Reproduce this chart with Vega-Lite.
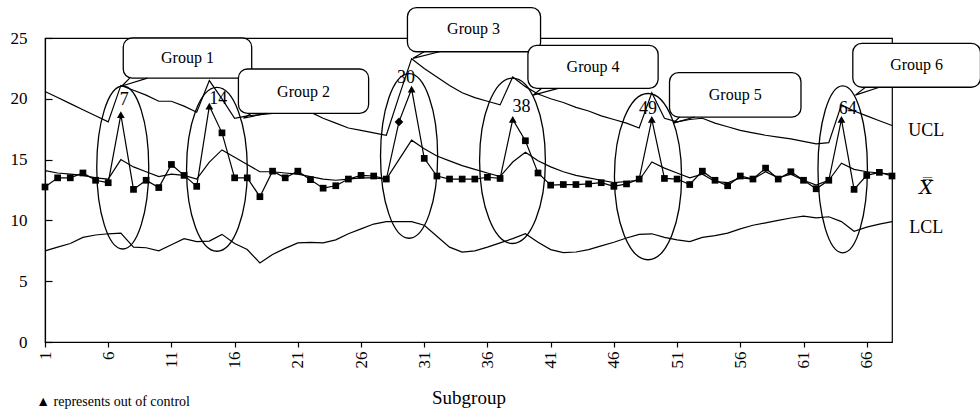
{
  "$schema": "https://vega.github.io/schema/vega-lite/v6.json",
  "width": 847,
  "height": 304,
  "autosize": "none",
  "padding": {"left": 45, "top": 38, "right": 88, "bottom": 71},
  "background": "white",
  "config": {
    "view": {"stroke": "black", "strokeWidth": 1.2},
    "font": "Liberation Serif, Times New Roman, serif",
    "axis": {"grid": false, "domainColor": "black", "tickColor": "black", "labelColor": "black", "titleColor": "black", "labelFont": "Liberation Serif, Times New Roman, serif", "titleFont": "Liberation Serif, Times New Roman, serif", "labelFontSize": 17, "titleFontSize": 19, "titleFontWeight": "normal", "domainWidth": 1.2, "tickWidth": 1.2}
  },
  "resolve": {"scale": {"shape": "independent", "size": "independent"}},
  "datasets": {
    "main": [
      {"s":1,"value":12.75,"status":"in","cl":14.1,"ucl":20.6,"lcl":7.5},
      {"s":2,"value":13.5,"status":"in","cl":13.9,"ucl":20.1,"lcl":7.8},
      {"s":3,"value":13.5,"status":"in","cl":13.8,"ucl":19.6,"lcl":8.1},
      {"s":4,"value":13.9,"status":"in","cl":13.7,"ucl":19.1,"lcl":8.6},
      {"s":5,"value":13.3,"status":"in","cl":13.5,"ucl":18.6,"lcl":8.8},
      {"s":6,"value":13.1,"status":"in","cl":13.4,"ucl":18.1,"lcl":8.9},
      {"s":7,"value":18.7,"status":"out","cl":15.0,"ucl":21.1,"lcl":8.95},
      {"s":8,"value":12.55,"status":"in","cl":14.4,"ucl":20.7,"lcl":7.8},
      {"s":9,"value":13.3,"status":"in","cl":14.0,"ucl":20.3,"lcl":7.75},
      {"s":10,"value":12.7,"status":"in","cl":13.6,"ucl":19.8,"lcl":7.5},
      {"s":11,"value":14.6,"status":"in","cl":13.8,"ucl":19.8,"lcl":8.0},
      {"s":12,"value":13.7,"status":"in","cl":13.7,"ucl":19.4,"lcl":8.5},
      {"s":13,"value":12.8,"status":"in","cl":13.4,"ucl":18.9,"lcl":8.25},
      {"s":14,"value":19.4,"status":"out","cl":14.8,"ucl":21.5,"lcl":8.3},
      {"s":15,"value":17.2,"status":"in","cl":15.8,"ucl":20.0,"lcl":8.85},
      {"s":16,"value":13.5,"status":"in","cl":15.2,"ucl":18.4,"lcl":8.1},
      {"s":17,"value":13.5,"status":"in","cl":14.6,"ucl":18.6,"lcl":7.6},
      {"s":18,"value":11.95,"status":"in","cl":14.0,"ucl":18.7,"lcl":6.5},
      {"s":19,"value":14.05,"status":"in","cl":14.0,"ucl":18.8,"lcl":7.2},
      {"s":20,"value":13.5,"status":"in","cl":13.9,"ucl":18.8,"lcl":7.7},
      {"s":21,"value":14.05,"status":"in","cl":13.8,"ucl":18.9,"lcl":8.15},
      {"s":22,"value":13.35,"status":"in","cl":13.6,"ucl":18.9,"lcl":8.2},
      {"s":23,"value":12.65,"status":"in","cl":13.4,"ucl":18.4,"lcl":8.15},
      {"s":24,"value":12.85,"status":"in","cl":13.3,"ucl":18.0,"lcl":8.4},
      {"s":25,"value":13.4,"status":"in","cl":13.4,"ucl":17.6,"lcl":8.9},
      {"s":26,"value":13.7,"status":"in","cl":13.5,"ucl":17.4,"lcl":9.3},
      {"s":27,"value":13.65,"status":"in","cl":13.5,"ucl":17.2,"lcl":9.7},
      {"s":28,"value":13.4,"status":"in","cl":13.4,"ucl":17.0,"lcl":9.9},
      {"s":29,"value":18.1,"status":"warn","cl":15.0,"ucl":20.2,"lcl":9.9},
      {"s":30,"value":20.8,"status":"out","cl":16.6,"ucl":23.3,"lcl":9.9},
      {"s":31,"value":15.1,"status":"in","cl":15.9,"ucl":22.5,"lcl":9.6},
      {"s":32,"value":13.65,"status":"in","cl":15.3,"ucl":21.8,"lcl":8.7},
      {"s":33,"value":13.4,"status":"in","cl":14.9,"ucl":21.1,"lcl":7.8},
      {"s":34,"value":13.4,"status":"in","cl":14.5,"ucl":20.5,"lcl":7.4},
      {"s":35,"value":13.4,"status":"in","cl":14.2,"ucl":20.1,"lcl":7.5},
      {"s":36,"value":13.55,"status":"in","cl":13.9,"ucl":19.8,"lcl":7.8},
      {"s":37,"value":13.45,"status":"in","cl":13.6,"ucl":19.5,"lcl":8.15},
      {"s":38,"value":18.3,"status":"out","cl":14.8,"ucl":21.8,"lcl":8.5},
      {"s":39,"value":16.55,"status":"in","cl":15.6,"ucl":21.0,"lcl":8.9},
      {"s":40,"value":13.9,"status":"in","cl":14.9,"ucl":20.4,"lcl":8.2},
      {"s":41,"value":12.9,"status":"in","cl":14.4,"ucl":20.0,"lcl":7.6},
      {"s":42,"value":12.95,"status":"in","cl":14.0,"ucl":19.7,"lcl":7.35},
      {"s":43,"value":12.95,"status":"in","cl":13.7,"ucl":19.3,"lcl":7.4},
      {"s":44,"value":13.0,"status":"in","cl":13.5,"ucl":19.0,"lcl":7.6},
      {"s":45,"value":13.1,"status":"in","cl":13.3,"ucl":18.6,"lcl":7.9},
      {"s":46,"value":12.8,"status":"in","cl":13.1,"ucl":18.3,"lcl":8.2},
      {"s":47,"value":13.0,"status":"in","cl":13.2,"ucl":18.0,"lcl":8.55},
      {"s":48,"value":13.4,"status":"in","cl":13.3,"ucl":17.6,"lcl":8.85},
      {"s":49,"value":18.3,"status":"out","cl":14.8,"ucl":20.5,"lcl":8.9},
      {"s":50,"value":13.45,"status":"in","cl":14.3,"ucl":18.4,"lcl":8.6},
      {"s":51,"value":13.4,"status":"in","cl":13.9,"ucl":18.1,"lcl":8.4},
      {"s":52,"value":12.95,"status":"in","cl":13.5,"ucl":18.3,"lcl":8.25},
      {"s":53,"value":14.05,"status":"in","cl":13.8,"ucl":18.4,"lcl":8.6},
      {"s":54,"value":13.3,"status":"in","cl":13.2,"ucl":18.0,"lcl":8.75},
      {"s":55,"value":12.85,"status":"in","cl":13.1,"ucl":17.7,"lcl":8.95},
      {"s":56,"value":13.65,"status":"in","cl":13.5,"ucl":17.4,"lcl":9.3},
      {"s":57,"value":13.4,"status":"in","cl":13.4,"ucl":17.2,"lcl":9.6},
      {"s":58,"value":14.3,"status":"in","cl":14.0,"ucl":17.0,"lcl":9.8},
      {"s":59,"value":13.4,"status":"in","cl":13.5,"ucl":16.85,"lcl":10.0},
      {"s":60,"value":14.0,"status":"in","cl":13.8,"ucl":16.7,"lcl":10.2},
      {"s":61,"value":13.3,"status":"in","cl":13.3,"ucl":16.5,"lcl":10.35},
      {"s":62,"value":12.6,"status":"in","cl":12.9,"ucl":16.3,"lcl":10.2},
      {"s":63,"value":13.3,"status":"in","cl":13.3,"ucl":16.4,"lcl":10.3},
      {"s":64,"value":18.3,"status":"out","cl":14.7,"ucl":19.5,"lcl":9.9},
      {"s":65,"value":12.55,"status":"in","cl":14.2,"ucl":19.0,"lcl":9.1},
      {"s":66,"value":13.7,"status":"in","cl":14.0,"ucl":18.6,"lcl":9.45},
      {"s":67,"value":13.95,"status":"in","cl":13.9,"ucl":18.2,"lcl":9.7},
      {"s":68,"value":13.65,"status":"in","cl":13.8,"ucl":17.8,"lcl":9.9}
    ],
    "ellipses": [
      {"group":"Group 1","s":7.15,"v":14.35},
      {"group":"Group 2","s":14.6,"v":14.2},
      {"group":"Group 3","s":29.8,"v":15.3},
      {"group":"Group 4","s":37.98,"v":14.9},
      {"group":"Group 5","s":48.7,"v":13.6},
      {"group":"Group 6","s":64.1,"v":14.2}
    ],
    "boxes": [
      {"group":"Group 1","s1":7.19,"s2":17.35,"v1":21.7,"v2":25.0,"sc":12.27,"vc":23.35},
      {"group":"Group 2","s1":16.3,"s2":26.6,"v1":18.8,"v2":22.45,"sc":21.45,"vc":20.6},
      {"group":"Group 3","s1":29.67,"s2":40.2,"v1":23.87,"v2":27.5,"sc":34.9,"vc":25.7},
      {"group":"Group 4","s1":39.2,"s2":49.5,"v1":20.86,"v2":24.4,"sc":44.35,"vc":22.6},
      {"group":"Group 5","s1":50.4,"s2":60.8,"v1":18.5,"v2":22.15,"sc":55.6,"vc":20.3},
      {"group":"Group 6","s1":64.9,"s2":75.0,"v1":20.95,"v2":24.56,"sc":69.95,"vc":22.75}
    ],
    "tails": [
      {"group":"Group 1","k":1,"s":7.7,"v":21.7},{"group":"Group 1","k":2,"s":7.09,"v":21.05},{"group":"Group 1","k":3,"s":9.1,"v":21.7},
      {"group":"Group 2","k":1,"s":17.3,"v":18.8},{"group":"Group 2","k":2,"s":16.7,"v":18.4},{"group":"Group 2","k":3,"s":18.5,"v":18.8},
      {"group":"Group 3","k":1,"s":31.0,"v":23.87},{"group":"Group 3","k":2,"s":30.1,"v":23.33},{"group":"Group 3","k":3,"s":32.2,"v":23.87},
      {"group":"Group 4","k":1,"s":40.3,"v":20.86},{"group":"Group 4","k":2,"s":39.6,"v":20.3},{"group":"Group 4","k":3,"s":41.6,"v":20.86},
      {"group":"Group 5","k":1,"s":51.2,"v":18.5},{"group":"Group 5","k":2,"s":50.7,"v":18.0},{"group":"Group 5","k":3,"s":52.4,"v":18.5},
      {"group":"Group 6","k":1,"s":65.9,"v":20.95},{"group":"Group 6","k":2,"s":65.1,"v":20.3},{"group":"Group 6","k":3,"s":67.0,"v":20.95}
    ],
    "numbers": [
      {"label":"7","s":7.27,"v":19.9},
      {"label":"14","s":14.7,"v":20.0},
      {"label":"30","s":29.56,"v":21.7},
      {"label":"38","s":38.7,"v":19.35},
      {"label":"49","s":48.7,"v":19.2},
      {"label":"64","s":64.5,"v":19.2}
    ],
    "sidelabels": [
      {"label":"UCL","s":70.7,"v":17.35},
      {"label":"LCL","s":70.7,"v":9.4}
    ],
    "xbar": [
      {"label":"X\u033f","s":70.7,"v":12.66}
    ],
    "notes": [
      {"label":"▲  represents out of control","s":0.3,"v":-4.93}
    ]
  },
  "layer": [
    {
      "data": {"name": "main"},
      "mark": {"type": "line", "color": "black", "strokeWidth": 1.2},
      "encoding": {
        "x": {"field": "s", "type": "quantitative", "scale": {"domain": [1, 68], "nice": false, "zero": false},
              "axis": {"values": [1,6,11,16,21,26,31,36,41,46,51,56,61,66], "labelAngle": -90, "tickSize": 5, "labelPadding": 4, "title": "Subgroup", "titlePadding": 20}},
        "y": {"field": "ucl", "type": "quantitative", "scale": {"domain": [0, 25], "nice": false},
              "axis": {"values": [0,5,10,15,20,25], "tickSize": -7, "labelPadding": 25, "title": null}}
      }
    },
    {
      "data": {"name": "main"},
      "mark": {"type": "line", "color": "black", "strokeWidth": 1.2},
      "encoding": {
        "x": {"field": "s", "type": "quantitative", "scale": {"domain": [1, 68], "nice": false, "zero": false}},
        "y": {"field": "cl", "type": "quantitative", "scale": {"domain": [0, 25], "nice": false}}
      }
    },
    {
      "data": {"name": "main"},
      "mark": {"type": "line", "color": "black", "strokeWidth": 1.2},
      "encoding": {
        "x": {"field": "s", "type": "quantitative", "scale": {"domain": [1, 68], "nice": false, "zero": false}},
        "y": {"field": "lcl", "type": "quantitative", "scale": {"domain": [0, 25], "nice": false}}
      }
    },
    {
      "data": {"name": "main"},
      "mark": {"type": "line", "color": "black", "strokeWidth": 1.2},
      "encoding": {
        "x": {"field": "s", "type": "quantitative", "scale": {"domain": [1, 68], "nice": false, "zero": false}},
        "y": {"field": "value", "type": "quantitative", "scale": {"domain": [0, 25], "nice": false}}
      }
    },
    {
      "data": {"name": "main"},
      "mark": {"type": "point", "filled": true, "color": "black", "opacity": 1},
      "encoding": {
        "x": {"field": "s", "type": "quantitative", "scale": {"domain": [1, 68], "nice": false, "zero": false}},
        "y": {"field": "value", "type": "quantitative", "scale": {"domain": [0, 25], "nice": false}},
        "shape": {"field": "status", "type": "nominal", "scale": {"domain": ["in","out","warn"], "range": ["square","triangle-up","diamond"]}, "legend": null},
        "size": {"field": "status", "type": "nominal", "scale": {"domain": ["in","out","warn"], "range": [45, 75, 55]}, "legend": null}
      }
    },
    {
      "data": {"name": "ellipses"},
      "mark": {"type": "point", "filled": false, "stroke": "black", "strokeWidth": 1.3, "opacity": 1},
      "encoding": {
        "x": {"field": "s", "type": "quantitative", "scale": {"domain": [1, 68], "nice": false, "zero": false}},
        "y": {"field": "v", "type": "quantitative", "scale": {"domain": [0, 25], "nice": false}},
        "shape": {"field": "group", "type": "nominal", "legend": null, "scale": {"domain": ["Group 1","Group 2","Group 3","Group 4","Group 5","Group 6"], "range": [
          "M-0.319,0A0.319,1,0,1,0,0.319,0A0.319,1,0,1,0,-0.319,0Z",
          "M-0.371,0A0.371,1,0,1,0,0.371,0A0.371,1,0,1,0,-0.371,0Z",
          "M-0.347,0A0.347,1,0,1,0,0.347,0A0.347,1,0,1,0,-0.347,0Z",
          "M-0.398,0A0.398,1,0,1,0,0.398,0A0.398,1,0,1,0,-0.398,0Z",
          "M-0.404,0A0.404,1,0,1,0,0.404,0A0.404,1,0,1,0,-0.404,0Z",
          "M-0.296,0A0.296,1,0,1,0,0.296,0A0.296,1,0,1,0,-0.296,0Z"]}},
        "size": {"field": "group", "type": "nominal", "legend": null, "scale": {"domain": ["Group 1","Group 2","Group 3","Group 4","Group 5","Group 6"], "range": [26569, 27889, 39601, 29241, 27556, 26244]}}
      }
    },
    {
      "data": {"name": "boxes"},
      "mark": {"type": "rect", "fill": "white", "stroke": "black", "strokeWidth": 1.3, "cornerRadius": 9},
      "encoding": {
        "x": {"field": "s1", "type": "quantitative", "scale": {"domain": [1, 68], "nice": false, "zero": false}},
        "x2": {"field": "s2"},
        "y": {"field": "v1", "type": "quantitative", "scale": {"domain": [0, 25], "nice": false}},
        "y2": {"field": "v2"}
      }
    },
    {
      "data": {"name": "tails"},
      "mark": {"type": "line", "color": "black", "strokeWidth": 1.2},
      "encoding": {
        "x": {"field": "s", "type": "quantitative", "scale": {"domain": [1, 68], "nice": false, "zero": false}},
        "y": {"field": "v", "type": "quantitative", "scale": {"domain": [0, 25], "nice": false}},
        "detail": {"field": "group"},
        "order": {"field": "k"}
      }
    },
    {
      "data": {"name": "boxes"},
      "mark": {"type": "text", "fontSize": 16, "color": "black", "align": "center", "baseline": "middle"},
      "encoding": {
        "x": {"field": "sc", "type": "quantitative", "scale": {"domain": [1, 68], "nice": false, "zero": false}},
        "y": {"field": "vc", "type": "quantitative", "scale": {"domain": [0, 25], "nice": false}},
        "text": {"field": "group"}
      }
    },
    {
      "data": {"name": "numbers"},
      "mark": {"type": "text", "fontSize": 18, "color": "black", "align": "center", "baseline": "middle"},
      "encoding": {
        "x": {"field": "s", "type": "quantitative", "scale": {"domain": [1, 68], "nice": false, "zero": false}},
        "y": {"field": "v", "type": "quantitative", "scale": {"domain": [0, 25], "nice": false}},
        "text": {"field": "label"}
      }
    },
    {
      "data": {"name": "sidelabels"},
      "mark": {"type": "text", "fontSize": 18, "color": "black", "align": "center", "baseline": "middle"},
      "encoding": {
        "x": {"field": "s", "type": "quantitative", "scale": {"domain": [1, 68], "nice": false, "zero": false}},
        "y": {"field": "v", "type": "quantitative", "scale": {"domain": [0, 25], "nice": false}},
        "text": {"field": "label"}
      }
    },
    {
      "data": {"name": "xbar"},
      "mark": {"type": "text", "font": "DejaVu Serif", "fontStyle": "italic", "fontSize": 19, "color": "black", "align": "center", "baseline": "middle"},
      "encoding": {
        "x": {"field": "s", "type": "quantitative", "scale": {"domain": [1, 68], "nice": false, "zero": false}},
        "y": {"field": "v", "type": "quantitative", "scale": {"domain": [0, 25], "nice": false}},
        "text": {"field": "label"}
      }
    },
    {
      "data": {"name": "notes"},
      "mark": {"type": "text", "fontSize": 14, "color": "black", "align": "left", "baseline": "middle"},
      "encoding": {
        "x": {"field": "s", "type": "quantitative", "scale": {"domain": [1, 68], "nice": false, "zero": false}},
        "y": {"field": "v", "type": "quantitative", "scale": {"domain": [0, 25], "nice": false}},
        "text": {"field": "label"}
      }
    }
  ]
}
